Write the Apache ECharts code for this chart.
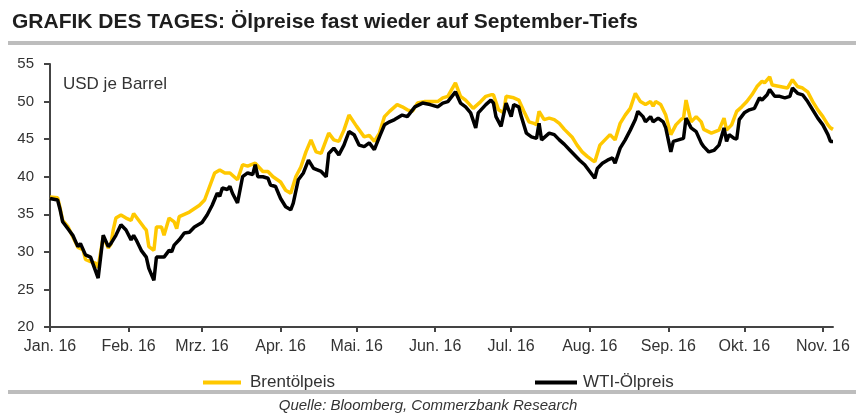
<!DOCTYPE html>
<html>
<head>
<meta charset="utf-8">
<script src="https://cdn.jsdelivr.net/npm/echarts@6/dist/echarts.min.js"></script>
<style>
html,body{margin:0;padding:0;background:#fff;}
#c{width:856px;height:414px;}
</style>
</head>
<body>
<div id="c"></div>
<script>
// Tick labels (one per month start)
const monthLabels = ['Jan. 16','Feb. 16','Mrz. 16','Apr. 16','Mai. 16','Jun. 16','Jul. 16','Aug. 16','Sep. 16','Okt. 16','Nov. 16'];
const seriesNames = ['Brentölpeis', 'WTI-Ölpreis'];
const startDate = '2016-01-01';
const dayCount = 310; // calendar days shown on the axis (1 Jan - 5 Nov 2016)

// Brent, USD per barrel; day = days since 1 Jan 2016
const brentDay = [0,3,4,5,7,9,11,13,14,16,18,19,21,23,24,25,26,28,30,32,33,35,37,38,39,41,42,44,45,47,49,50,51,53,55,59,61,62,65,67,69,71,74,76,78,81,84,86,88,91,93,95,97,99,101,103,105,107,110,112,114,116,118,121,124,126,128,130,132,134,137,139,141,143,145,148,151,153,155,157,160,162,164,167,170,172,174,175,177,179,180,183,185,187,189,191,192,193,195,197,199,201,203,206,208,210,212,214,215,217,219,221,223,225,227,229,231,233,235,237,238,239,241,243,245,247,249,250,251,253,255,257,258,261,264,266,267,269,271,273,275,277,279,281,282,284,285,288,291,293,295,297,299,301,303,305,307,308,309];
const brentValues = [37.3,37.2,35.8,34.2,33.4,32.0,30.6,30.3,29.0,28.7,28.5,27.9,32.0,30.5,31.0,33.0,34.5,34.9,34.5,34.2,35.1,34.2,33.3,32.9,30.7,30.2,33.3,33.3,32.2,34.5,34.0,33.1,34.7,35.0,35.3,36.2,36.9,37.8,40.5,40.9,40.5,40.5,39.6,41.6,41.4,41.8,40.7,40.7,40.0,39.3,38.2,37.8,40.0,41.3,43.3,44.9,43.3,43.1,45.8,44.9,44.7,46.2,48.2,46.7,45.3,45.5,44.7,45.8,48.0,48.7,49.6,49.3,48.9,48.7,49.8,50.0,50.0,50.0,50.5,50.7,52.5,50.7,50.2,49.1,50.0,50.7,50.9,50.9,48.9,48.5,50.7,50.5,50.2,48.7,47.3,47.1,46.9,48.7,47.6,47.8,47.6,47.1,46.3,45.3,44.2,43.3,42.7,42.2,42.0,44.2,44.9,45.6,44.9,47.1,48.2,49.1,51.1,50.0,49.6,50.0,49.4,50.0,49.6,48.2,45.6,46.9,47.6,47.8,50.2,47.3,48.0,47.3,46.3,45.8,46.2,47.8,46.2,46.9,48.7,49.3,50.0,50.9,52.0,52.7,52.5,53.3,52.2,52.0,51.8,52.9,52.0,51.8,51.3,50.0,48.9,48.0,46.9,46.5,46.3];

// WTI, USD per barrel; day = days since 1 Jan 2016
const wtiDay = [0,3,4,5,7,9,11,12,14,16,19,21,23,24,26,28,30,32,33,34,36,38,39,41,42,45,47,48,49,51,53,55,57,60,62,64,66,67,68,70,71,72,74,76,78,80,81,82,84,86,87,89,91,93,95,96,98,100,102,104,107,109,110,112,114,116,118,120,122,124,126,128,130,132,134,136,139,141,144,147,150,153,155,157,160,162,164,166,168,169,172,174,175,176,178,180,182,183,185,186,188,190,192,193,194,197,199,201,203,205,207,209,211,213,215,216,218,220,222,223,225,227,229,231,232,234,235,237,238,240,242,243,245,246,248,250,251,253,255,257,258,260,262,264,266,267,268,270,271,272,274,276,278,280,281,283,284,286,288,290,292,293,295,297,299,301,303,305,307,308,309];
const wtiValues = [37.1,36.9,35.6,34.0,33.1,32.2,30.7,31.1,29.6,29.3,26.5,32.2,30.7,31.1,32.2,33.6,32.9,31.6,32.2,31.6,30.2,29.3,27.8,26.2,29.3,29.3,30.2,30.0,30.9,31.6,32.5,32.6,33.3,33.9,34.9,36.2,37.8,37.4,38.5,38.3,38.7,37.8,36.5,40.0,40.5,40.3,41.6,40.0,40.0,39.8,38.9,38.7,37.1,36.0,35.6,36.5,39.6,40.5,42.2,41.1,40.7,40.0,43.1,43.8,42.9,44.2,46.0,45.6,44.2,44.0,44.5,43.6,45.3,46.9,47.3,47.6,48.2,48.0,49.3,49.8,49.6,49.3,49.8,50.0,51.3,49.8,49.3,48.5,46.5,48.5,49.6,50.2,49.8,48.0,46.7,49.8,48.0,49.6,49.3,48.0,45.8,45.3,45.1,47.1,44.9,45.8,45.6,44.9,44.3,43.6,42.9,42.2,41.6,40.7,39.8,41.1,41.8,42.2,42.5,41.8,43.8,44.9,46.2,47.6,48.7,48.0,47.3,48.0,47.3,47.8,47.3,46.5,43.3,44.7,44.9,45.1,47.8,46.5,46.0,44.5,44.0,43.3,43.5,44.2,46.5,44.7,45.6,45.1,45.0,47.6,48.5,48.9,49.1,50.5,50.2,50.9,51.6,50.7,50.7,50.5,50.7,51.8,51.1,50.9,50.0,48.9,47.8,46.9,45.6,44.7,44.7];

// Calendar-day categories
const categories = [];
const s = new Date(startDate + 'T00:00:00Z');
for (let i = 0; i < dayCount; i++) {
  const d = new Date(s.getTime() + i * 86400000);
  categories.push(d.toISOString().slice(0, 10));
}
const isMonthStart = (idx, val) => val.slice(8) === '01';

const FONT = '"Liberation Sans", Arial, Helvetica, sans-serif';
const chart = echarts.init(document.getElementById('c'), null, {renderer: 'canvas'});
chart.setOption({
  animation: false,
  backgroundColor: '#fff',
  title: {
    text: 'GRAFIK DES TAGES: Ölpreise fast wieder auf September-Tiefs',
    left: 7, top: 7,
    textStyle: {fontFamily: FONT, fontSize: 21, fontWeight: 'bold', color: '#1e1e1e'}
  },
  grid: {left: 50, right: 23, top: 64, bottom: 87, containLabel: false},
  legend: [
    {data: [seriesNames[0]], left: 198, top: 369, icon: 'rect', itemWidth: 38, itemHeight: 4,
     textStyle: {fontFamily: FONT, fontSize: 17, color: '#333', padding: [0, 0, 0, 4]}},
    {data: [seriesNames[1]], left: 530, top: 369, icon: 'rect', itemWidth: 42, itemHeight: 4,
     textStyle: {fontFamily: FONT, fontSize: 17, color: '#333', padding: [0, 0, 0, 1]}}
  ],
  xAxis: {
    type: 'category',
    data: categories,
    boundaryGap: false,
    axisLine: {lineStyle: {color: '#444', width: 2}},
    axisTick: {show: true, interval: isMonthStart, length: 5, lineStyle: {color: '#444', width: 2}},
    axisLabel: {
      interval: isMonthStart,
      margin: 12,
      fontFamily: FONT, fontSize: 16, color: '#333',
      formatter: (val) => monthLabels[parseInt(val.slice(5, 7), 10) - 1]
    },
    splitLine: {show: false}
  },
  yAxis: {
    type: 'value',
    min: 20, max: 55, interval: 5,
    axisLine: {show: true, lineStyle: {color: '#444', width: 2}},
    axisTick: {show: true, length: 6, lineStyle: {color: '#444', width: 2}},
    axisLabel: {margin: 16, fontFamily: FONT, fontSize: 15, color: '#333'},
    splitLine: {show: false}
  },
  graphic: [
    {type: 'rect', left: 8, top: 41, shape: {width: 848, height: 4}, style: {fill: '#bdbdbd'}},
    {type: 'rect', left: 8, top: 390, shape: {width: 848, height: 4}, style: {fill: '#bdbdbd'}},
    {type: 'text', left: 63, top: 76, style: {text: 'USD je Barrel', font: '17px ' + FONT, fill: '#333'}},
    {type: 'text', left: 'center', top: 398, style: {text: 'Quelle: Bloomberg, Commerzbank Research', font: 'italic 15px ' + FONT, fill: '#333'}}
  ],
  series: [
    {
      name: seriesNames[0], type: 'line', showSymbol: false, symbol: 'none', connectNulls: true,
      color: '#FFC800',
      lineStyle: {color: '#FFC800', width: 3.5},
      data: brentDay.map((d, i) => [d, brentValues[i]])
    },
    {
      name: seriesNames[1], type: 'line', showSymbol: false, symbol: 'none', connectNulls: true,
      color: '#000000',
      lineStyle: {color: '#000000', width: 3.5},
      data: wtiDay.map((d, i) => [d, wtiValues[i]])
    }
  ]
});
</script>
</body>
</html>
